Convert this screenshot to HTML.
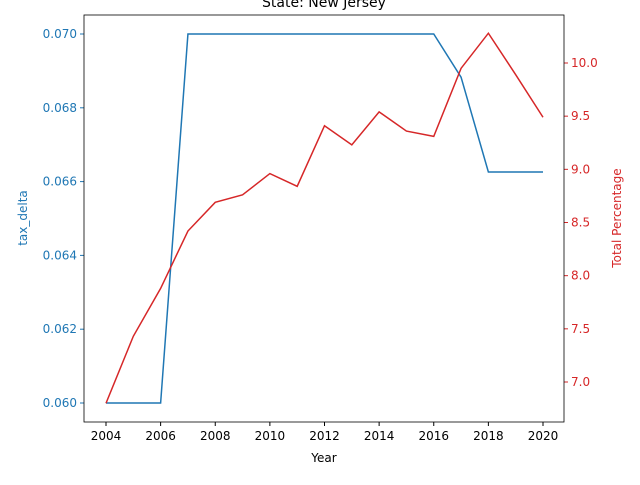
<!DOCTYPE html>
<html><head><meta charset="utf-8"><style>
body{margin:0;background:#fff;font-family:"Liberation Sans","DejaVu Sans",sans-serif;}
svg text{font-family:"DejaVu Sans","Liberation Sans",sans-serif;}
</style></head><body>
<svg id="chart" width="640" height="480" xmlns="http://www.w3.org/2000/svg"></svg>
<script>
const years=[2004,2005,2006,2007,2008,2009,2010,2011,2012,2013,2014,2015,2016,2017,2018,2019,2020];
const taxDelta=[0.060,0.060,0.060,0.070,0.070,0.070,0.070,0.070,0.070,0.070,0.070,0.070,0.070,0.06883,0.06626,0.06626,0.06626];
const totalPct=[6.80,7.43,7.88,8.42,8.69,8.76,8.96,8.84,9.41,9.23,9.54,9.36,9.31,9.95,10.28,9.89,9.49];
const xTicks=[2004,2006,2008,2010,2012,2014,2016,2018,2020];
const leftTicks=[0.060,0.062,0.064,0.066,0.068,0.070];
const rightTicks=[7.0,7.5,8.0,8.5,9.0,9.5,10.0];

const L=84,R=564,T=15,B=422;
const x=v=>106+(v-2004)*(543-106)/16;
const yl=v=>403-(v-0.060)*(403-34)/0.010;
const yr=v=>382-(v-7.0)*(382-63)/3.0;
const svg=document.getElementById('chart');
const NS='http://www.w3.org/2000/svg';
function el(tag,attrs,txt){const e=document.createElementNS(NS,tag);for(const k in attrs)e.setAttribute(k,attrs[k]);if(txt!==undefined)e.textContent=txt;svg.appendChild(e);return e;}

let t=el('text',{x:324,y:7,'text-anchor':'middle','font-size':14},'State: New Jersey');



xTicks.forEach(v=>{
  const l=el('line',{x1:x(v),x2:x(v),y1:B,y2:B+4,stroke:'#000'});
  
  
  const tx=el('text',{x:x(v),y:B+18,'text-anchor':'middle','font-size':12},v);
  
  
});
leftTicks.forEach(v=>{
  const l=el('line',{x1:L-4,x2:L,y1:yl(v),y2:yl(v),stroke:'#1f77b4'});
  
  
  const tx=el('text',{x:L-7,y:yl(v)+4,'text-anchor':'end','font-size':12,fill:'#1f77b4'},v.toFixed(3));
  
  
});
rightTicks.forEach(v=>{
  const l=el('line',{x1:R,x2:R+4,y1:yr(v),y2:yr(v),stroke:'#d62728'});
  
  
  const tx=el('text',{x:R+7,y:yr(v)+4,'text-anchor':'start','font-size':12,fill:'#d62728'},v.toFixed(1));
  
  
});

let p1=el('polyline',{points:years.map((y,i)=>x(y)+','+yl(taxDelta[i])).join(' '),fill:'none',stroke:'#1f77b4','stroke-width':1.5});


let p2=el('polyline',{points:years.map((y,i)=>x(y)+','+yr(totalPct[i])).join(' '),fill:'none',stroke:'#d62728','stroke-width':1.5});



let fr=el('rect',{x:L,y:T,width:R-L,height:B-T,fill:'none',stroke:'#000','stroke-width':0.8});



let xt=el('text',{x:324,y:462,'text-anchor':'middle','font-size':12},'Year');


let lt=el('text',{x:27,y:218,'text-anchor':'middle','font-size':12,fill:'#1f77b4',transform:'rotate(-90 27 218)'},'tax_delta');


let rt=el('text',{x:621,y:218,'text-anchor':'middle','font-size':12,fill:'#d62728',transform:'rotate(-90 621 218)'},'Total Percentage');


</script>
</body></html>
